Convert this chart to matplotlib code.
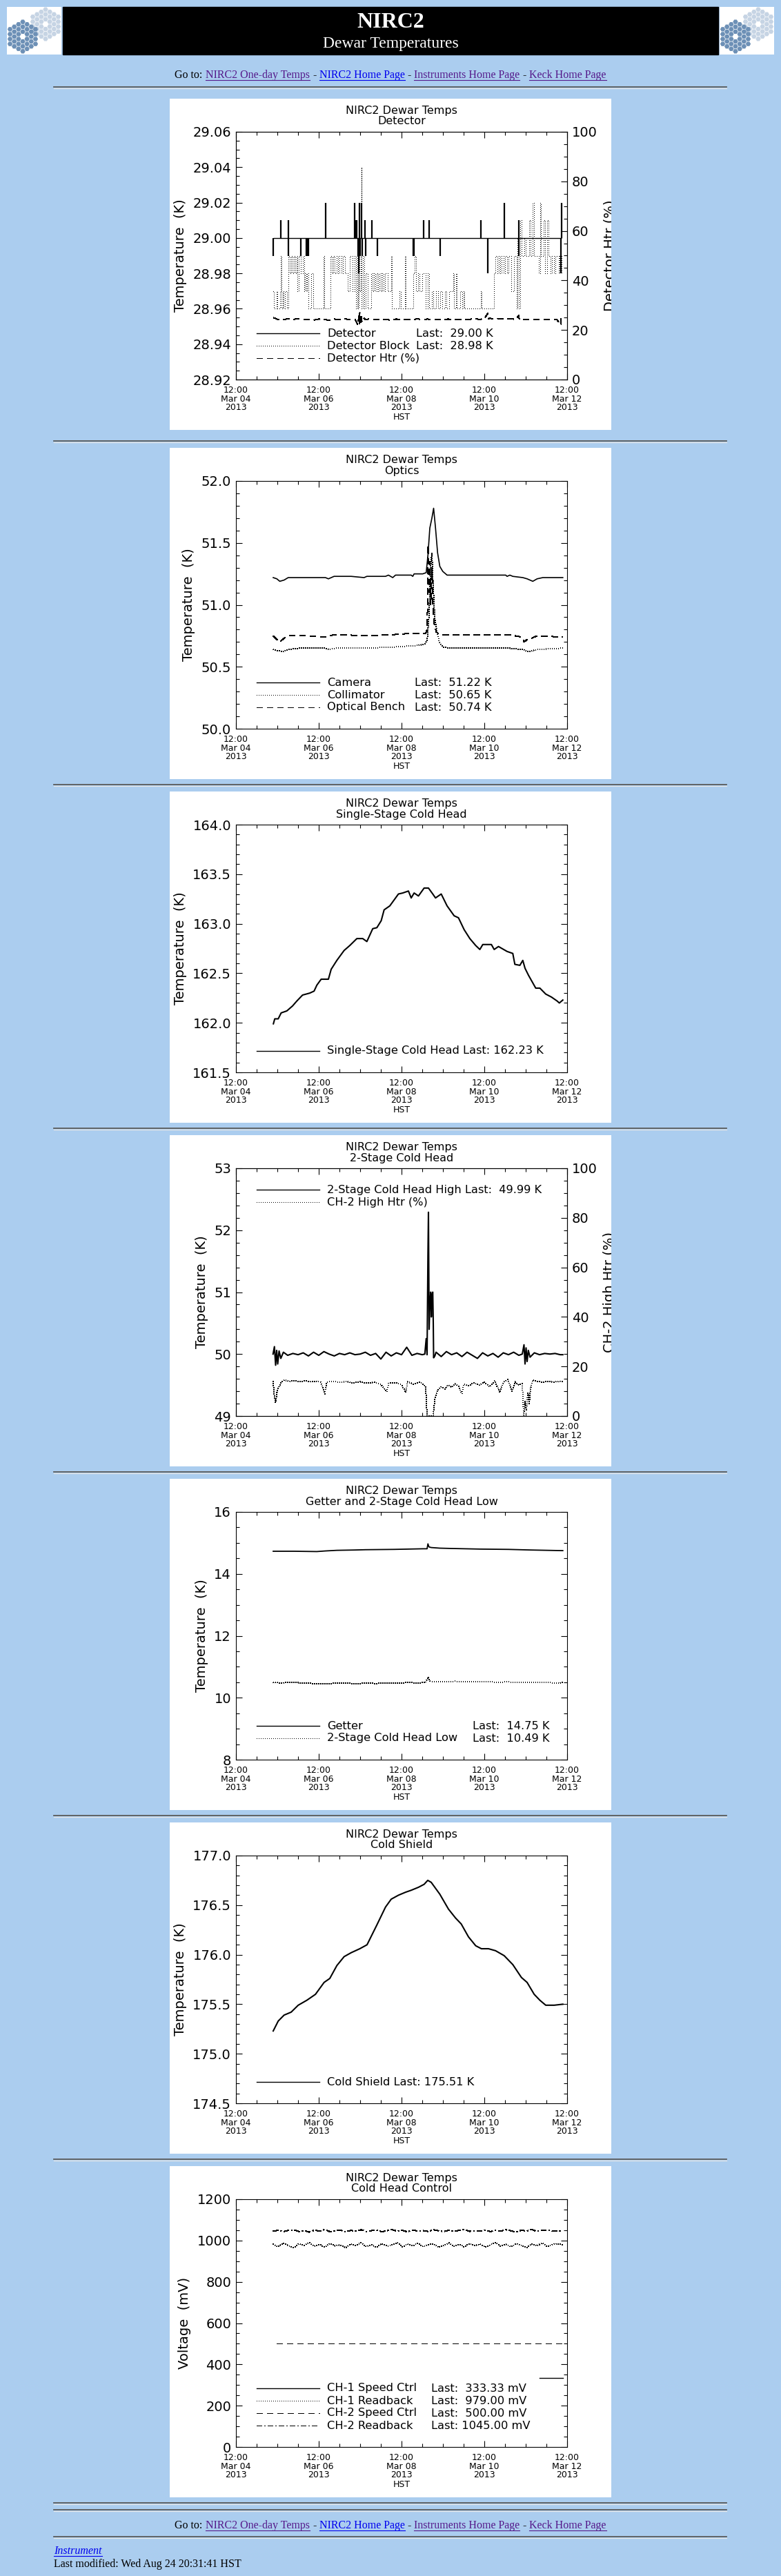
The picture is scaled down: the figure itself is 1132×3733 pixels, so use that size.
import numpy as np
import matplotlib
matplotlib.use("Agg")
import matplotlib.pyplot as plt
from matplotlib.patches import Rectangle, RegularPolygon
from matplotlib.lines import Line2D
from matplotlib.ticker import MultipleLocator, FormatStrFormatter

W, H = 1132, 3733
PAGE_BG = "#abcdef"
LINK = "#0000ee"
VISITED = "#551a8b"
SERIF = "Liberation Serif"

plt.rcParams['font.family'] = ['DejaVu Sans']

# ---------------- data (time axis in hours after 12:00 Mar 04 2013, HST) ----------------
tick_hours = [0, 48, 96, 144, 192]
tick_labels = ["12:00\nMar 04\n2013", "12:00\nMar 06\n2013", "12:00\nMar 08\n2013",
               "12:00\nMar 10\n2013", "12:00\nMar 12\n2013"]

# Detector panel
det_span = [21.7, 188.6]
det_base = 29.00
det_spike_t = [21.7, 26.0, 30.3, 30.4, 37.7, 40.6, 41.2, 42.1, 51.9, 68.9, 69.5, 70.0, 70.6,
               71.2, 71.5, 72.0, 72.6, 73.0, 74.9, 75.3, 78.7, 81.8, 102.9, 103.3, 108.7,
               112.1, 118.2, 141.9, 146.1, 155.4, 163.8, 164.1, 188.3, 188.6]
det_spike_v = [28.99, 29.01, 29.01, 28.99, 28.99, 28.99, 28.99, 28.99, 29.02, 29.02, 29.01, 29.01,
               28.99, 28.98, 29.02, 28.99, 29.02, 28.99, 29.01, 28.99, 29.01, 28.99, 28.99, 28.99,
               29.01, 29.01, 28.99, 29.01, 28.98, 29.02, 28.99, 29.01, 28.98, 29.02]
block_t = [21.7, 22.0, 23.5, 24.0, 25.6, 26.0, 26.3, 27.0, 27.6, 28.4, 29.4, 30.3, 31.0, 31.8,
           32.6, 33.4, 34.2, 35.0, 35.5, 36.5, 37.7, 38.6, 39.4, 40.1, 40.6, 41.3, 42.1, 43.5,
           44.7, 50.8, 51.3, 54.7, 55.5, 56.4, 57.3, 58.2, 59.1, 60.0, 61.0, 62.0, 63.0, 64.6,
           66.0, 67.4, 68.9, 69.6, 70.2, 70.8, 71.2, 71.6, 72.2, 72.6, 72.9, 73.5, 74.2, 75.3,
           76.5, 78.4, 79.2, 80.0, 80.8, 81.6, 82.4, 83.2, 84.0, 84.8, 85.6, 86.4, 88.0, 89.9,
           90.3, 94.9, 95.4, 98.0, 98.4, 102.9, 103.7, 104.4, 105.5, 106.5, 108.0, 110.0, 111.0,
           112.1, 113.6, 114.5, 116.0, 117.0, 118.2, 119.5, 121.0, 122.0, 123.5, 125.9, 126.3,
           127.4, 127.8, 130.0, 131.0, 132.0, 132.5, 141.9, 142.5, 149.6, 150.5, 151.4, 152.3,
           153.2, 154.1, 155.0, 156.0, 157.0, 158.0, 159.5, 161.0, 162.6, 163.2, 163.8, 164.9,
           165.5, 167.0, 168.0, 170.0, 170.8, 172.0, 172.6, 175.6, 176.2, 176.8, 178.5, 179.2,
           180.5, 181.2, 182.5, 183.2, 184.5, 185.2, 187.1, 187.6, 188.6]
block_v = [28.97, 28.96, 28.97, 28.96, 28.97, 28.99, 28.96, 28.97, 28.96, 28.97, 28.96, 28.99,
           28.98, 28.99, 28.98, 28.99, 28.98, 28.99, 28.97, 28.99, 28.98, 28.99, 28.97, 28.98,
           28.97, 28.98, 28.96, 28.98, 28.96, 28.99, 28.96, 28.99, 28.98, 28.99, 28.98, 28.99,
           28.98, 28.99, 28.98, 28.99, 28.98, 28.97, 28.99, 28.97, 28.99, 28.96, 29.00, 28.96,
           29.01, 28.97, 28.99, 29.04, 28.96, 28.99, 28.96, 28.98, 28.96, 28.98, 28.97, 28.98,
           28.97, 28.98, 28.97, 28.98, 28.97, 28.98, 28.97, 28.98, 28.97, 28.99, 28.96, 28.97,
           28.96, 28.99, 28.96, 28.98, 28.99, 28.97, 28.98, 28.97, 28.98, 28.96, 28.98, 28.96,
           28.97, 28.96, 28.97, 28.96, 28.97, 28.96, 28.97, 28.96, 28.97, 28.98, 28.96, 28.98,
           28.96, 28.97, 28.96, 28.97, 28.96, 28.97, 28.96, 28.98, 28.99, 28.98, 28.99, 28.98,
           28.99, 28.98, 28.99, 28.98, 28.99, 28.97, 28.99, 28.96, 29.00, 28.96, 29.01, 28.99,
           29.00, 28.99, 29.01, 28.99, 29.02, 28.99, 28.98, 29.02, 28.99, 29.01, 28.98, 29.01,
           28.99, 28.98, 28.99, 28.98, 28.99, 28.98, 28.99, 28.98]
dhtr_t = [21.7, 24, 27, 30, 33, 36, 39, 42, 45, 48, 51, 54, 57, 60, 63, 66, 69, 70.8, 71.2, 71.5,
          71.8, 72.2, 72.6, 73.0, 73.8, 75, 78, 81, 84, 87, 90, 93, 96, 99, 102, 105, 108, 111,
          114, 117, 120, 123, 126, 129, 132, 135, 138, 141, 144, 146.0, 146.3, 147, 150, 153, 156,
          159, 162, 164.0, 164.3, 165, 168, 171, 174, 177, 180, 183, 186, 188.3, 188.6]
dhtr_v = [25.0, 24.3, 24.1, 24.5, 24.2, 24.6, 24.1, 24.3, 24.0, 24.4, 24.2, 24.0, 24.4, 24.1,
          24.5, 24.2, 24.3, 22.0, 26.0, 22.5, 27.0, 23.0, 25.5, 23.5, 25.0, 24.2, 24.5, 24.1,
          24.4, 24.2, 24.0, 24.4, 24.1, 24.3, 24.0, 24.5, 24.2, 24.4, 24.1, 24.3, 24.0, 24.4,
          24.2, 24.1, 24.4, 24.2, 24.6, 24.3, 24.5, 26.8, 24.4, 24.8, 24.2, 24.6, 24.3, 24.5,
          24.3, 25.8, 24.2, 24.4, 24.2, 24.4, 24.1, 24.3, 24.2, 24.4, 24.3, 22.0, 25.0]

# Optics panel
cam_t = [21.6, 23.7, 25.4, 27.9, 30.3, 37.0, 51.9, 53.6, 56.9, 66.8, 74.3, 75.9, 86.7, 88.4,
         90.9, 92.5, 101.6, 102.5, 103.3, 108.3, 110.3, 111.3, 112.4, 113.6, 114.6, 115.7,
         116.9, 118.2, 119.9, 122.4, 133.1, 156.4, 157.2, 158.8, 160.5, 166.3, 168.8, 172.1,
         174.6, 177.9, 189.5]
cam_v = [51.22, 51.21, 51.19, 51.20, 51.22, 51.22, 51.22, 51.21, 51.23, 51.23, 51.22, 51.23,
         51.23, 51.24, 51.22, 51.24, 51.24, 51.23, 51.25, 51.25, 51.26, 51.40, 51.62, 51.70,
         51.78, 51.62, 51.42, 51.31, 51.27, 51.24, 51.24, 51.24, 51.23, 51.24, 51.23, 51.22,
         51.21, 51.19, 51.21, 51.22, 51.22]
col_t = [21.6, 24.5, 27.0, 30.3, 37.0, 51.9, 53.6, 58.5, 75.1, 91.7, 103.3, 109.1, 110.8, 111.9,
         112.9, 113.6, 114.2, 115.2, 116.6, 117.9, 119.9, 124.8, 141.4, 158.0, 166.3, 169.6,
         174.6, 189.5]
col_v = [50.64, 50.63, 50.62, 50.64, 50.65, 50.65, 50.64, 50.65, 50.65, 50.66, 50.67, 50.68,
         50.71, 50.90, 51.30, 51.42, 51.20, 50.90, 50.78, 50.70, 50.66, 50.65, 50.65, 50.65,
         50.64, 50.62, 50.64, 50.65]
bench_t = [21.6, 23.7, 25.4, 27.9, 30.3, 41.9, 51.9, 53.6, 58.5, 75.1, 91.7, 101.6, 109.9, 110.9,
           111.4, 111.9, 112.4, 112.9, 113.6, 114.2, 114.9, 116.2, 118.2, 124.8, 141.4, 158.0,
           165.5, 167.1, 168.8, 171.3, 174.6, 189.5]
bench_v = [50.75, 50.72, 50.70, 50.73, 50.75, 50.75, 50.74, 50.75, 50.76, 50.75, 50.76, 50.77,
           50.77, 50.80, 51.48, 51.10, 51.35, 51.00, 51.30, 51.00, 50.85, 50.78, 50.76, 50.76,
           50.76, 50.76, 50.74, 50.70, 50.72, 50.73, 50.75, 50.74]

# Single-stage cold head
ss_t = [21.7, 22.5, 24.5, 26.2, 29.5, 32.8, 35.3, 38.6, 42.8, 45.3, 46.9, 49.4, 53.6, 55.2, 58.5,
        62.7, 66.0, 70.1, 73.5, 75.9, 79.3, 81.7, 84.2, 85.9, 89.2, 91.7, 94.2, 96.7, 100.0,
        101.6, 103.3, 105.8, 109.1, 111.6, 114.1, 115.7, 119.0, 122.4, 126.5, 129.0, 132.3,
        135.6, 139.0, 141.4, 143.1, 148.1, 149.7, 152.2, 157.2, 160.5, 161.7, 164.6, 166.3,
        167.6, 169.6, 173.8, 176.2, 179.6, 182.9, 186.2, 187.5, 189.5]
ss_v = [161.99, 162.04, 162.04, 162.10, 162.12, 162.17, 162.22, 162.28, 162.30, 162.32, 162.38,
        162.44, 162.44, 162.54, 162.63, 162.73, 162.78, 162.85, 162.85, 162.82, 162.95, 162.96,
        163.03, 163.14, 163.18, 163.24, 163.30, 163.31, 163.33, 163.26, 163.31, 163.28, 163.36,
        163.36, 163.30, 163.26, 163.30, 163.18, 163.08, 163.06, 162.94, 162.85, 162.78, 162.74,
        162.79, 162.79, 162.74, 162.77, 162.72, 162.70, 162.59, 162.58, 162.63, 162.55, 162.48,
        162.35, 162.35, 162.29, 162.26, 162.22, 162.20, 162.23]

# 2-stage cold head high
ch2h_t = [21.5, 22.3, 23.0, 23.6, 24.2, 25.0, 26.0, 27.5, 30, 33, 36, 39, 42, 45, 48, 51, 54, 57,
          60, 63, 66, 69, 72, 75, 78, 81, 84, 87, 90, 93, 96, 99, 102, 105, 108, 109.5, 110.3,
          110.8, 111.3, 111.6, 112.0, 112.4, 112.9, 113.3, 113.6, 114.1, 114.4, 114.6, 115.3,
          116, 119, 122, 125, 128, 131, 134, 137, 140, 143, 146, 149, 152, 155, 158, 161, 164,
          166, 167, 167.6, 168.2, 168.8, 169.5, 170.5, 173, 176, 179, 182, 185, 188, 189.5]
ch2h_v = [50.00, 50.12, 49.82, 50.06, 49.84, 50.05, 49.93, 50.03, 49.98, 50.01, 49.99, 50.02,
          49.97, 50.03, 49.98, 50.04, 50.00, 49.97, 50.01, 49.99, 50.02, 49.99, 50.00, 50.03,
          49.98, 50.01, 49.92, 50.03, 49.97, 50.02, 49.99, 50.11, 49.98, 50.01, 49.99, 50.00,
          50.25, 49.99, 51.58, 52.29, 50.40, 50.80, 51.00, 50.60, 50.95, 51.00, 50.50, 49.94,
          49.97, 50.03, 49.96, 50.04, 49.99, 50.02, 49.96, 50.03, 49.98, 49.93, 50.02, 49.97,
          50.01, 49.95, 50.02, 49.99, 50.03, 49.98, 50.00, 50.15, 49.84, 50.10, 49.88, 50.06,
          49.95, 50.02, 49.99, 50.01, 50.00, 50.01, 49.99, 49.99]
ch2htr_t = [21.5, 22.3, 23.0, 23.8, 24.5, 26.0, 28, 31, 34, 37, 40, 43, 46, 49, 51.5, 52.5, 56,
            60, 64, 68, 72, 76, 80, 84, 87.5, 88.5, 92, 96, 98.5, 99.5, 103, 106, 108, 110,
            110.8, 111.8, 113.0, 114.2, 115.5, 117, 119, 121, 123, 125, 127, 129, 131, 132, 135,
            138, 141, 144, 147, 150, 153, 155, 157.5, 160, 162, 164, 166, 166.8, 167.6, 168.4,
            169.2, 170.0, 170.8, 172, 175, 178, 181, 184, 187, 189.5]
ch2htr_v = [14.0, 8.0, 5.5, 9.5, 11.0, 13.5, 14.5, 14.0, 14.3, 13.9, 14.2, 13.8, 14.1, 13.7, 9.0,
            13.6, 14.0, 13.6, 13.9, 13.4, 13.8, 13.2, 13.6, 12.8, 9.8, 13.3, 13.5, 12.6, 9.5,
            13.8, 12.9, 13.6, 13.2, 12.0, 0.0, 0.0, 0.0, 0.0, 7.5, 10.5, 11.8, 10.9, 12.5, 11.6,
            13.0, 12.0, 9.0, 12.8, 12.2, 13.5, 12.4, 13.8, 11.8, 14.2, 9.5, 13.5, 14.8, 10.0,
            13.8, 12.5, 13.0, 0.0, 6.0, 2.0, 9.5, 5.0, 11.0, 14.5, 14.0, 13.6, 14.0, 13.7, 13.9,
            13.8]

# Getter and 2-stage cold head low
get_t = [21.6, 33.7, 46.9, 51.9, 58.5, 68.5, 75.1, 91.7, 108.3, 110.8, 111.3, 111.9, 113.2,
         118.2, 124.8, 141.4, 158.0, 171.3, 189.5]
get_v = [14.73, 14.73, 14.72, 14.74, 14.76, 14.77, 14.78, 14.79, 14.81, 14.81, 14.97, 14.87,
         14.85, 14.83, 14.82, 14.80, 14.79, 14.77, 14.75]
low_t = [21.6, 27, 33, 39, 45, 51, 57, 63, 69, 75, 81, 87, 93, 99, 105, 110, 111.3, 112.5, 115,
         121, 127, 133, 139, 145, 151, 157, 163, 169, 175, 181, 187, 189.5]
low_v = [10.49, 10.48, 10.50, 10.47, 10.46, 10.44, 10.47, 10.48, 10.45, 10.47, 10.46, 10.48,
         10.47, 10.49, 10.48, 10.49, 10.67, 10.53, 10.52, 10.51, 10.53, 10.52, 10.51, 10.52,
         10.50, 10.51, 10.50, 10.49, 10.50, 10.49, 10.47, 10.49]

# Cold shield
cs_t = [21.6, 24.5, 27.9, 32.0, 36.1, 41.1, 46.1, 51.1, 54.4, 58.5, 62.7, 66.8, 71.8, 76.0, 81.7,
        86.7, 90.0, 94.2, 98.3, 101.6, 105.8, 109.1, 111.2, 113.2, 118.2, 123.2, 127.3, 130.6,
        134.8, 139.0, 142.3, 146.4, 150.5, 155.5, 160.5, 165.5, 168.8, 172.9, 176.2, 179.6,
        184.5, 189.5]
cs_v = [175.23, 175.33, 175.39, 175.42, 175.49, 175.54, 175.60, 175.72, 175.76, 175.89, 175.98,
        176.02, 176.06, 176.10, 176.30, 176.48, 176.56, 176.60, 176.63, 176.65, 176.68, 176.71,
        176.75, 176.73, 176.61, 176.46, 176.37, 176.31, 176.18, 176.09, 176.06, 176.06, 176.04,
        175.99, 175.90, 175.77, 175.72, 175.60, 175.54, 175.49, 175.49, 175.50]

# Cold head control (readbacks sampled every 3 h)
ctl_t = np.arange(21.5, 190.0, 3.0)
ch2_rb = [1045, 1050, 1043, 1049, 1052, 1044, 1048, 1041, 1050, 1046, 1053, 1043, 1047, 1051,
          1042, 1049, 1045, 1052, 1044, 1048, 1050, 1043, 1047, 1053, 1045, 1049, 1042, 1051,
          1046, 1048, 1044, 1052, 1047, 1043, 1050, 1045, 1049, 1053, 1044, 1048, 1046, 1051,
          1043, 1049, 1045, 1052, 1047, 1041, 1050, 1046, 1053, 1044, 1049, 1051, 1045, 1048, 1045]
ch1_rb = [982, 970, 988, 975, 966, 984, 977, 990, 972, 981, 968, 986, 974, 979, 965, 983, 976,
          989, 971, 980, 967, 985, 973, 978, 990, 969, 982, 975, 987, 970, 979, 984, 966, 977,
          988, 972, 981, 969, 986, 975, 983, 968, 979, 990, 973, 982, 970, 985, 977, 966, 984,
          974, 988, 971, 980, 985, 979]
ch2_spd_t = [23.7, 189.5]
ch2_spd_v = [500.0, 500.0]
ch1_spd_t = [176.0, 189.5]
ch1_spd_v = [333.33, 333.33]

# ---------------- figure helpers ----------------
DOT = (0, (1.0, 2.2))
DASH = (0, (9.0, 6.0))
DASHDOT = (0, (7, 3.5, 1.4, 3.5))
THIN = 0.72

fig = plt.figure(figsize=(W / 100, H / 100), dpi=100)
fig.patch.set_facecolor(PAGE_BG)


def frect(x, y, w, h):
    return [x / W, 1 - (y + h) / H, w / W, h / H]


def fx(x):
    return x / W


def fy(y):
    return 1 - y / H


def hr(y):
    fig.add_artist(Line2D([fx(78), fx(1053)], [fy(y), fy(y)], color="#5a5a5a", lw=1.3))
    fig.add_artist(Line2D([fx(78), fx(1053)], [fy(y + 1.6), fy(y + 1.6)], color="#e6e6e6", lw=0.9))


def logo(x0):
    # Keck-style mirror logo: two rings of flat-topped hexagonal segments
    ax = fig.add_axes(frect(x0, 10, 79, 69))
    ax.set_xlim(0, 79)
    ax.set_ylim(69, 0)
    ax.set_axis_off()
    ax.add_patch(Rectangle((0, 0), 79, 69, color="white"))
    s = 4.1
    for (cx, cy, c) in [(56, 25, "#c6d4e4"), (23, 43, "#6d90b6")]:
        for q in range(-3, 4):
            for r in range(-3, 4):
                d = max(abs(q), abs(r), abs(q + r))
                if d == 0 or d > 3:
                    continue
                hx = cx + s * 1.5 * q
                hy = cy + s * np.sqrt(3) * (r + q / 2)
                ax.add_patch(RegularPolygon((hx, hy), 6, radius=s * 0.9, orientation=np.pi / 6,
                                            color=c, lw=0, clip_on=True))


def goto_line(ybase):
    parts = [("Go to:", "black", False), ("NIRC2 One-day Temps", VISITED, True), ("-", "black", False),
             ("NIRC2 Home Page", LINK, True), ("-", "black", False),
             ("Instruments Home Page", VISITED, True), ("-", "black", False),
             ("Keck Home Page", VISITED, True)]
    r = fig.canvas.get_renderer()
    texts = []
    for s, c, u in parts:
        t = fig.text(0, fy(ybase), s, color=c, fontsize=11.5, family=SERIF, va="baseline")
        texts.append(t)
    ws = [t.get_window_extent(r).width for t in texts]
    gap = 4.2
    total = sum(ws) + gap * (len(ws) - 1)
    x = 566 - total / 2
    for t, w, (s, c, u) in zip(texts, ws, parts):
        t.set_x(fx(x))
        if u:
            fig.add_artist(Line2D([fx(x), fx(x + w)], [fy(ybase + 3), fy(ybase + 3)], color=c, lw=0.8))
        x += w + gap


def draw_key(ax, rows, anchor="bottom", col=None):
    n = len(rows)
    for i, (ls, name, tail) in enumerate(rows):
        ypx = 31 + 18 * (n - 1 - i) if anchor == "bottom" else 359 - 31 - 18 * i
        yf = ypx / 359
        solid = ls == "-"
        ax.add_line(Line2D([30 / 480, 121 / 480], [yf, yf], transform=ax.transAxes,
                           color="black", lw=1.0 if solid else THIN, ls=ls, antialiased=solid))
        ax.text(132 / 480, yf, name, transform=ax.transAxes, va="center", fontsize=11.7)
        if tail:
            ax.text(col / 480, yf, tail, transform=ax.transAxes, va="center", fontsize=11.7)


def make_panel(top, subtitle, ylim, major, minor, fmt, ylabel, right=None):
    bg = fig.add_axes(frect(246, top, 640, 480))
    bg.set_xlim(0, 640)
    bg.set_ylim(480, 0)
    bg.set_axis_off()
    bg.add_patch(Rectangle((0, 0), 640, 480, color="white"))
    bg.text(336, 18, "NIRC2 Dewar Temps", ha="center", va="center", fontsize=11.5)
    bg.text(336, 33, subtitle, ha="center", va="center", fontsize=11.5)

    ax = fig.add_axes(frect(342, top + 48, 480, 359))
    ax.set_facecolor("none")
    ax.set_xlim(0, 192)
    ax.set_ylim(*ylim)
    ax.set_xticks(tick_hours, labels=tick_labels, linespacing=0.95)
    ax.xaxis.set_minor_locator(MultipleLocator(12))
    ax.yaxis.set_major_locator(MultipleLocator(major))
    ax.yaxis.set_minor_locator(MultipleLocator(minor))
    ax.yaxis.set_major_formatter(FormatStrFormatter(fmt))
    ax.tick_params(which="both", direction="in", top=True, right=right is None, width=0.8)
    ax.tick_params(which="major", length=6.8)
    ax.tick_params(which="minor", length=3.4)
    ax.tick_params(axis="x", labelsize=9, pad=6.5)
    ax.tick_params(axis="y", labelsize=14, pad=5)
    for sp in ax.spines.values():
        sp.set_linewidth(0.8)
    ax.set_xlabel("HST", fontsize=9, labelpad=1)
    ax.set_ylabel(ylabel, fontsize=14, labelpad=6)
    ax2 = None
    if right is not None:
        ax2 = ax.twinx()
        ax2.set_ylim(0, 100)
        ax2.yaxis.set_major_locator(MultipleLocator(20))
        ax2.yaxis.set_minor_locator(MultipleLocator(5))
        ax2.tick_params(which="both", direction="in", width=0.8)
        ax2.tick_params(which="major", length=6.8, labelsize=14, pad=5)
        ax2.tick_params(which="minor", length=3.4)
        for sp in ax2.spines.values():
            sp.set_linewidth(0.8)
        ax2.set_ylabel(right, fontsize=14, labelpad=6)
        ax2.yaxis.label.set_clip_box(bg.bbox)
    return ax, ax2


# ---------------- header ----------------
logo(10)
logo(1043)
fig.add_artist(Rectangle((fx(91), fy(79)), (1041 - 91) / W, 69 / H, transform=fig.transFigure,
                         color="black"))
fig.text(fx(566), fy(33), "NIRC2", color="white", fontsize=23, fontweight="bold", family=SERIF,
         ha="center", va="center")
fig.text(fx(566), fy(64), "Dewar Temperatures", color="white", fontsize=17, family=SERIF,
         ha="center", va="center")
goto_line(113)
hr(126)

tops = [143, 649, 1147, 1645, 2143, 2641, 3139]

# 1: Detector
ax, ax2 = make_panel(tops[0], "Detector", (28.92, 29.06), 0.02, 0.005, "%.2f", "Temperature  (K)",
                     right="Detector Htr (%)")
ax.hlines(det_base, det_span[0], det_span[1], color="black", lw=1.0)
ax.vlines(det_spike_t, det_base, det_spike_v, color="black", lw=1.6)
ax.plot(block_t, block_v, color="black", lw=THIN, ls=DOT, drawstyle="steps-post", antialiased=False)
ax2.plot(dhtr_t, dhtr_v, color="black", lw=THIN, ls=DASH, antialiased=False)
draw_key(ax, [("-", "Detector", "Last:  29.00 K"), (DOT, "Detector Block", "Last:  28.98 K"),
              (DASH, "Detector Htr (%)", None)], col=261)
hr(639)

# 2: Optics
ax, _ = make_panel(tops[1], "Optics", (50.0, 52.0), 0.5, 0.1, "%.1f", "Temperature  (K)")
ax.plot(cam_t, cam_v, color="black", lw=1.2)
ax.plot(col_t, col_v, color="black", lw=THIN, ls=DOT, antialiased=False)
ax.plot(bench_t, bench_v, color="black", lw=THIN, ls=DASH, antialiased=False)
draw_key(ax, [("-", "Camera", "Last:  51.22 K"), (DOT, "Collimator", "Last:  50.65 K"),
              (DASH, "Optical Bench", "Last:  50.74 K")], col=259)
hr(1137)

# 3: Single-stage cold head
ax, _ = make_panel(tops[2], "Single-Stage Cold Head", (161.5, 164.0), 0.5, 0.1, "%.1f",
                   "Temperature  (K)")
ax.plot(ss_t, ss_v, color="black", lw=1.5)
draw_key(ax, [("-", "Single-Stage Cold Head Last: 162.23 K", None)])
hr(1635)

# 4: 2-stage cold head
ax, ax2 = make_panel(tops[3], "2-Stage Cold Head", (49, 53), 1, 0.2, "%d", "Temperature  (K)",
                     right="CH-2 High Htr (%)")
ax.plot(ch2h_t, ch2h_v, color="black", lw=1.5)
ax2.plot(ch2htr_t, ch2htr_v, color="black", lw=THIN, ls=DOT, antialiased=False)
draw_key(ax, [("-", "2-Stage Cold Head High Last:  49.99 K", None),
              (DOT, "CH-2 High Htr (%)", None)], anchor="top")
hr(2133)

# 5: Getter and 2-stage cold head low
ax, _ = make_panel(tops[4], "Getter and 2-Stage Cold Head Low", (8, 16), 2, 0.5, "%d",
                   "Temperature  (K)")
ax.plot(get_t, get_v, color="black", lw=1.3)
ax.plot(low_t, low_v, color="black", lw=THIN, ls=DOT, antialiased=False)
draw_key(ax, [("-", "Getter", "Last:  14.75 K"), (DOT, "2-Stage Cold Head Low", "Last:  10.49 K")],
         col=343)
hr(2631)

# 6: Cold shield
ax, _ = make_panel(tops[5], "Cold Shield", (174.5, 177.0), 0.5, 0.1, "%.1f", "Temperature  (K)")
ax.plot(cs_t, cs_v, color="black", lw=1.5)
draw_key(ax, [("-", "Cold Shield Last: 175.51 K", None)])
hr(3129)

# 7: Cold head control
ax, _ = make_panel(tops[6], "Cold Head Control", (0, 1200), 200, 50, "%d", "Voltage  (mV)")
ax.plot(ch1_spd_t, ch1_spd_v, color="black", lw=1.0)
ax.plot(ctl_t, ch1_rb, color="black", lw=THIN, ls=DOT, antialiased=False)
ax.plot(ch2_spd_t, ch2_spd_v, color="black", lw=THIN, ls=DASH, antialiased=False)
ax.plot(ctl_t, ch2_rb, color="black", lw=THIN, ls=DASHDOT, antialiased=False)
draw_key(ax, [("-", "CH-1 Speed Ctrl", "Last:  333.33 mV"), (DOT, "CH-1 Readback", "Last:  979.00 mV"),
              (DASH, "CH-2 Speed Ctrl", "Last:  500.00 mV"),
              (DASHDOT, "CH-2 Readback", "Last: 1045.00 mV")], col=283)
hr(3627)
hr(3637)

# ---------------- footer ----------------
goto_line(3664)
hr(3676)
r = fig.canvas.get_renderer()
t = fig.text(fx(78), fy(3701), "Instrument", color=LINK, fontsize=11.5, family=SERIF,
             style="italic", va="baseline")
w = t.get_window_extent(r).width
fig.add_artist(Line2D([fx(78), fx(78 + w)], [fy(3704), fy(3704)], color=LINK, lw=0.8))
fig.text(fx(78), fy(3720), "Last modified: Wed Aug 24 20:31:41 HST", color="black", fontsize=11.5,
         family=SERIF, va="baseline")

fig.savefig("out.png", dpi=100, facecolor=PAGE_BG)
